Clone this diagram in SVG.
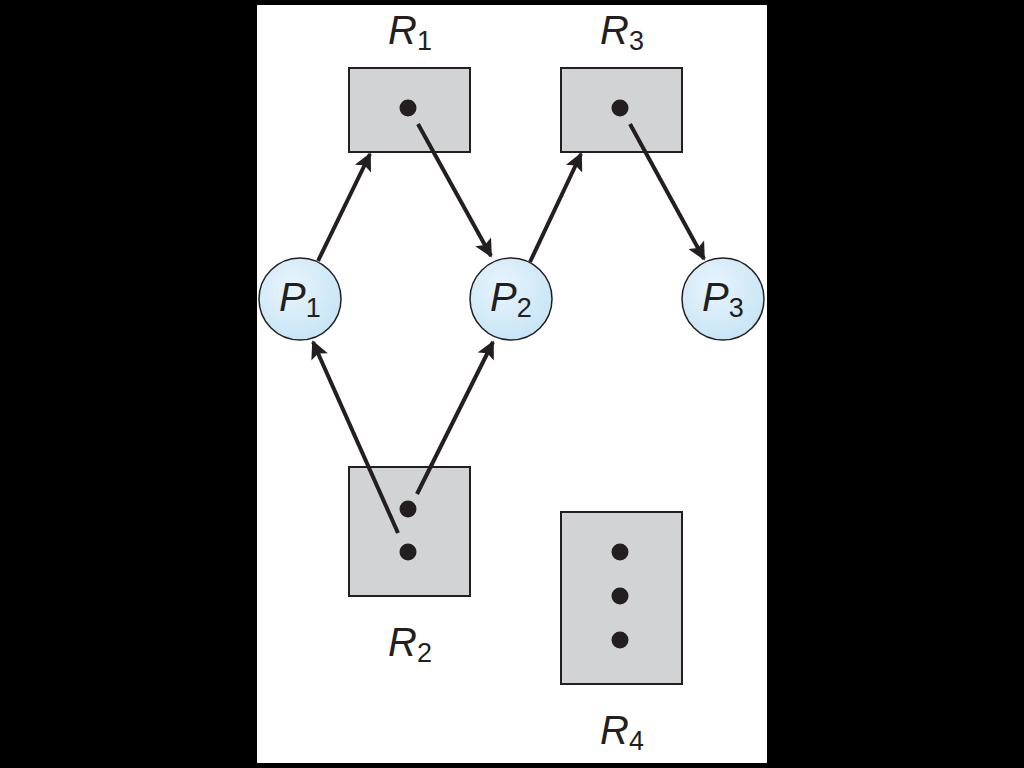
<svg xmlns="http://www.w3.org/2000/svg" width="1024" height="768" viewBox="0 0 1024 768">
<style>
.res{fill:#d1d3d4;stroke:#231f20;stroke-width:2}
.dot{fill:#231f20}
.proc{fill:url(#pg);stroke:#231f20;stroke-width:1.5}
.lbl{font-family:"Liberation Sans",Arial,sans-serif;font-style:italic;font-size:40px;fill:#231f20}
.sub{font-family:"Liberation Sans",Arial,sans-serif;font-style:normal;font-size:27px}
.edge{stroke:#231f20;stroke-width:4;fill:none;marker-end:url(#ah)}
</style>
<defs>
<radialGradient id="pg" cx="0.4" cy="0.35" r="0.7">
<stop offset="0" stop-color="#e8f5fc"/>
<stop offset="1" stop-color="#c6e4f5"/>
</radialGradient>
<marker id="ah" viewBox="0 0 10 10" refX="9" refY="5" markerWidth="5" markerHeight="4.5" orient="auto" markerUnits="strokeWidth">
<path d="M0,0 L10,5 L0,10 L2,5 z" fill="#231f20"/>
</marker>
</defs>
<rect width="1024" height="768" fill="#000"/>
<rect x="257" y="5" width="510" height="758" fill="#fff"/>
<g id="R1">
<rect class="res" x="349" y="68" width="121" height="84"/>
<circle class="dot" cx="408" cy="108" r="8.5"/>
<text class="lbl" x="388" y="44">R<tspan class="sub" dy="6">1</tspan></text>
</g>
<g id="R3">
<rect class="res" x="561" y="68" width="121" height="84"/>
<circle class="dot" cx="620" cy="108" r="8.5"/>
<text class="lbl" x="600" y="44">R<tspan class="sub" dy="6">3</tspan></text>
</g>
<g id="R2">
<rect class="res" x="349" y="467" width="121" height="129"/>
<circle class="dot" cx="408" cy="509" r="8.5"/>
<circle class="dot" cx="408" cy="552" r="8.5"/>
<text class="lbl" x="388" y="656">R<tspan class="sub" dy="6">2</tspan></text>
</g>
<g id="R4">
<rect class="res" x="561" y="512" width="121" height="172"/>
<circle class="dot" cx="620" cy="552" r="8.5"/>
<circle class="dot" cx="620" cy="596" r="8.5"/>
<circle class="dot" cx="620" cy="640" r="8.5"/>
<text class="lbl" x="600" y="744">R<tspan class="sub" dy="6">4</tspan></text>
</g>
<g id="connectors">
<line class="edge" x1="318" y1="261" x2="370" y2="154"/>
<line class="edge" x1="418" y1="124" x2="491" y2="256"/>
<line class="edge" x1="530" y1="262" x2="581" y2="154"/>
<line class="edge" x1="630" y1="124" x2="704" y2="259"/>
<line class="edge" x1="398" y1="533" x2="313" y2="342"/>
<line class="edge" x1="417" y1="494" x2="493" y2="342"/>
</g>
<g id="P1">
<circle class="proc" cx="300" cy="299" r="41"/>
<text class="lbl" x="279" y="311">P<tspan class="sub" dy="6">1</tspan></text>
</g>
<g id="P2">
<circle class="proc" cx="511" cy="299" r="41"/>
<text class="lbl" x="490" y="311">P<tspan class="sub" dy="6">2</tspan></text>
</g>
<g id="P3">
<circle class="proc" cx="723" cy="299" r="41"/>
<text class="lbl" x="702" y="311">P<tspan class="sub" dy="6">3</tspan></text>
</g>
</svg>
